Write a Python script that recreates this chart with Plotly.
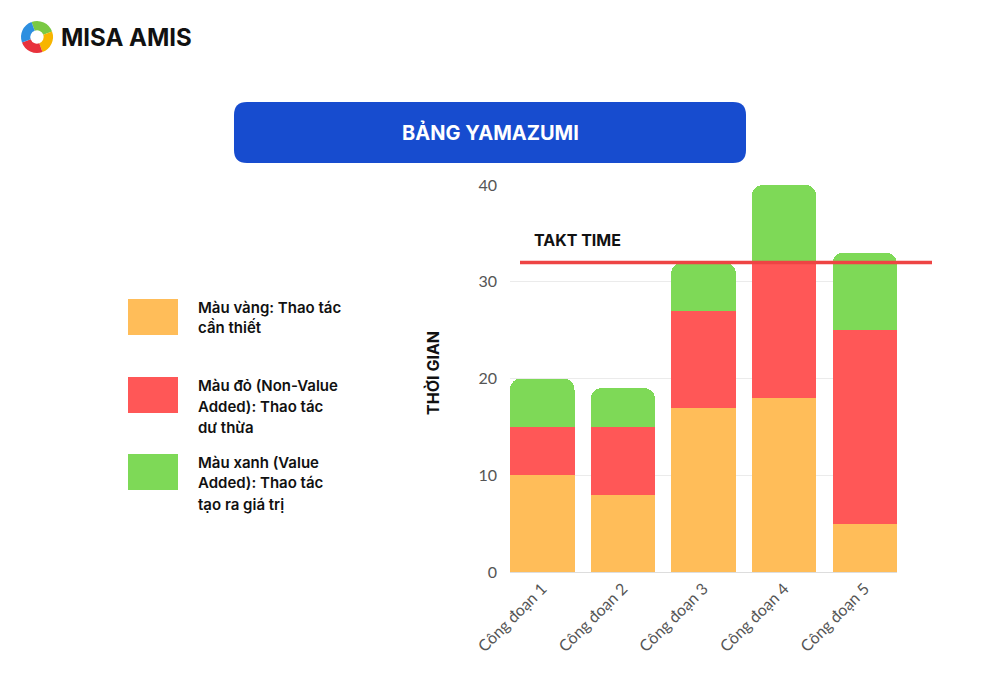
import plotly.graph_objects as go

categories = ["Công đoạn 1", "Công đoạn 2", "Công đoạn 3", "Công đoạn 4", "Công đoạn 5"]
yellow_vals = [10, 8, 17, 18, 5]
red_vals = [5, 7, 10, 14, 20]
green_vals = [5, 4, 5, 8, 8]
takt_time = 32
y_ticks = [0, 10, 20, 30, 40]
legend_lines = [
    ["Màu vàng: Thao tác", "cần thiết"],
    ["Màu đỏ (Non-Value", "Added): Thao tác", "dư thừa"],
    ["Màu xanh (Value", "Added): Thao tác", "tạo ra giá trị"],
]
colors = ["#FFBD59", "#FF5757", "#7ED957"]

W, H = 999, 675
def px(x): return x / W
def py(y): return 1 - y / H

fig = go.Figure()
for vals, c in zip([yellow_vals, red_vals, green_vals], colors):
    fig.add_trace(go.Bar(x=categories, y=vals, marker=dict(color=c, line=dict(width=0)),
                         showlegend=False, hoverinfo="skip"))

# logo pie
fig.add_trace(go.Pie(values=[1, 1, 1, 1], marker=dict(colors=["#7AC943", "#F7B500", "#E8323C", "#2D8FE0"]),
                     hole=0.42, sort=False, direction="clockwise", rotation=-20,
                     textinfo="none", hoverinfo="skip", showlegend=False,
                     domain=dict(x=[px(21), px(53)], y=[py(53), py(21)])))

def rounded_rect(x0, y0, x1, y1, r):
    def P(x, y): return f"{px(x):.5f},{py(y):.5f}"
    return (f"M {P(x0 + r, y0)} L {P(x1 - r, y0)} Q {P(x1, y0)} {P(x1, y0 + r)} "
            f"L {P(x1, y1 - r)} Q {P(x1, y1)} {P(x1 - r, y1)} L {P(x0 + r, y1)} "
            f"Q {P(x0, y1)} {P(x0, y1 - r)} L {P(x0, y0 + r)} Q {P(x0, y0)} {P(x0 + r, y0)} Z")

shapes = []
annotations = []
# title box
shapes.append(dict(type="path", xref="paper", yref="paper", path=rounded_rect(234, 102, 746, 163, 13),
                   fillcolor="#174CCF", line=dict(width=0), layer="below"))
annotations.append(dict(text="<b>BẢNG YAMAZUMI</b>", xref="paper", yref="paper", x=px(490), y=py(132),
                        xanchor="center", yanchor="middle",
                        showarrow=False, font=dict(family="Inter", size=20, color="white")))
# logo text
annotations.append(dict(text="<b>MISA AMIS</b>", xref="paper", yref="paper", x=px(59), y=py(37),
                        xanchor="left", yanchor="middle", showarrow=False,
                        font=dict(family="Inter", size=24, color="#111111")))
# legend
sq_tops = [299, 377, 454]
line_ys = [[307, 327], [385, 406, 427], [462, 483, 504]]
for lines, c, t, ys in zip(legend_lines, colors, sq_tops, line_ys):
    shapes.append(dict(type="rect", xref="paper", yref="paper", x0=px(128), x1=px(178), y0=py(t + 36), y1=py(t),
                       fillcolor=c, line=dict(width=0)))
    for ln, yy in zip(lines, ys):
        annotations.append(dict(text=ln, xref="paper", yref="paper", x=px(196), y=py(yy), xanchor="left",
                                yanchor="middle", align="left", showarrow=False,
                                font=dict(family="Inter", size=15, color="#111111", weight=600)))
# takt line
shapes.append(dict(type="line", xref="paper", yref="y", x0=px(520), x1=px(932), y0=takt_time, y1=takt_time,
                   line=dict(color="#EE4444", width=3.5)))
annotations.append(dict(text="<b>TAKT TIME</b>", xref="paper", yref="paper", x=px(532), y=py(240),
                        xanchor="left", yanchor="middle", showarrow=False,
                        font=dict(family="Inter", size=16, color="#111111")))
# axis title
annotations.append(dict(text="<b>THỜI GIAN</b>", xref="paper", yref="paper", x=px(433), y=py(373),
                        xanchor="center", yanchor="middle",
                        textangle=-90, showarrow=False, font=dict(family="Inter", size=16, color="#111111")))

fig.update_layout(
    width=W, height=H, margin=dict(l=0, r=0, t=0, b=0, autoexpand=False),
    paper_bgcolor="white", plot_bgcolor="white",
    barmode="stack", bargap=0.2, barcornerradius=11,
    shapes=shapes, annotations=annotations,
    xaxis=dict(domain=[px(510), px(897)], range=[-0.4, 4.4], tickangle=-45, showgrid=False,
               showline=True, linecolor="#dddddd", linewidth=1, ticks="", automargin=False,
               tickfont=dict(family="Lato", size=16, color="#555555")),
    yaxis=dict(domain=[py(572), py(185)], range=[0, 40], tickvals=y_ticks, showgrid=True,
               gridcolor="#ebebeb", zeroline=False, ticks="", ticklabelstandoff=12, automargin=False,
               tickfont=dict(family="Lato", size=16, color="#555555")),
    font=dict(family="Inter"),
)
fig.write_html("out.html")
